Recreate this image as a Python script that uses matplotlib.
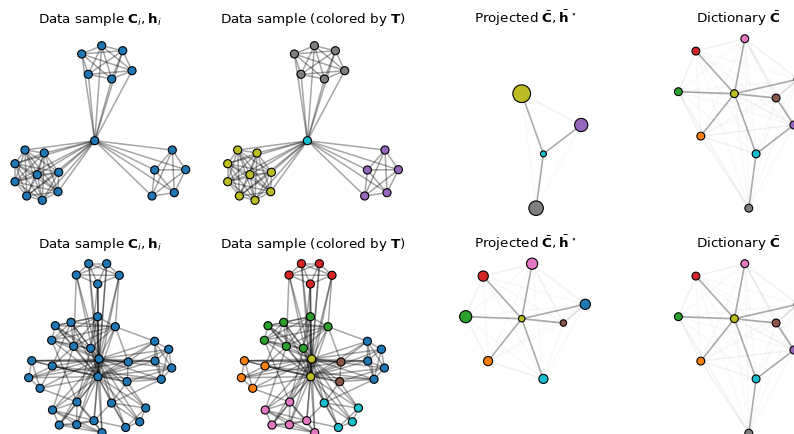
"""
Graph samples, their colouring by the transport plan T,
the projection on the dictionary and the dictionary itself
"""

import numpy as np
import matplotlib.pyplot as plt

colors = plt.get_cmap('tab10').colors

# ---- data sample 1 (21 nodes): layout positions (px-like units, y down)
g1_x = [81.7, 101.7, 122.7, 132.0, 111.7, 88.3,
        94.7,
        25.0, 44.3, 15.0, 37.3, 58.7, 15.0, 26.7, 42.3, 58.0,
        172.3, 154.7, 185.7, 152.0, 174.3]
g1_y = [24.0, 15.7, 20.7, 40.7, 49.0, 44.3,
        110.7,
        120.0, 123.0, 133.7, 144.7, 142.3, 151.7, 166.0, 170.3, 161.7,
        120.0, 140.0, 139.7, 166.0, 162.7]
g1_clusters = [[0, 1, 2, 3, 4, 5], [6], [7, 8, 9, 10, 11, 12, 13, 14, 15],
               [16, 17, 18, 19, 20]]
g1_hubs = [6]
g1_extra = []
g1_atom = [7, 9, 8, 4]   # atom of the dictionary each cluster is sent to by T

# ---- data sample 2 (35 nodes)
g2_x = [88.7, 106.7, 76.3, 119.3, 97.7,
        97.7, 115.3, 55.3, 71.0, 51.7, 73.7, 90.7,
        99.0, 98.0,
        31.7, 52.3, 28.7, 40.0,
        154.7, 168.7, 155.0, 171.7, 161.3,
        128.3, 127.0,
        77.0, 52.5, 59.3, 76.7, 94.0, 102.0,
        111.5, 145.7, 139.7, 125.7]
g2_y = [8.7, 8.7, 20.0, 20.3, 29.0,
        61.7, 71.7, 70.7, 67.3, 85.3, 91.3, 93.3,
        104.0, 121.7,
        105.7, 111.0, 122.7, 133.3,
        86.3, 94.3, 106.0, 113.0, 124.3,
        107.0, 126.7,
        147.0, 155.0, 170.0, 169.7, 165.7, 177.7,
        148.0, 153.0, 166.8, 172.5]
g2_clusters = [[0, 1, 2, 3, 4], [5, 6, 7, 8, 9, 10, 11], [12, 13],
               [14, 15, 16, 17], [18, 19, 20, 21, 22], [23, 24],
               [25, 26, 27, 28, 29, 30], [31, 32, 33, 34]]
g2_hubs = [12, 13]
g2_extra = [(4, 5), (4, 11), (14, 23), (15, 24), (16, 23), (14, 20),
            (15, 22), (23, 18), (23, 20), (24, 22), (24, 21), (9, 25),
            (10, 26), (31, 22), (24, 31), (24, 32), (11, 25), (17, 25),
            (31, 29), (6, 23), (6, 18), (8, 15), (10, 15), (29, 34),
            (3, 6), (2, 10)]
g2_atom = [3, 2, 8, 1, 0, 5, 6, 9]

# ---- dictionary (10 atoms, tab10 order)
dict_x = [159.9, 62.7, 40.3, 57.8, 155.8, 138.0, 106.7, 110.7, 96.3, 118.0]
dict_y = [49.3, 106.1, 61.7, 21.1, 95.0, 68.0, 8.7, 178.2, 63.7, 123.9]
strong_edges = [(8, 6), (8, 3), (8, 2), (8, 0), (8, 5), (8, 1), (8, 9),
                (5, 4), (4, 9), (9, 7)]
mid_edges = [(0, 5)]
light_edges = [(8, 4), (6, 0), (6, 5), (6, 3), (3, 2), (2, 1), (1, 9),
               (1, 4), (6, 4), (0, 4), (2, 7), (1, 7)]

# projected weights h* for each sample
h_proj1 = [0, 0, 0, 0, 0.238, 0, 0, 0.286, 0.429, 0.048]
h_proj2 = [0.143, 0.114, 0.2, 0.143, 0, 0.057, 0.171, 0, 0.057, 0.114]

Cbar = np.full((10, 10), 0.07)
for i, j in strong_edges:
    Cbar[i, j] = Cbar[j, i] = 1.0
for i, j in mid_edges:
    Cbar[i, j] = Cbar[j, i] = 0.4
for i, j in light_edges:
    Cbar[i, j] = Cbar[j, i] = 0.16


def graph_edges(clusters, hubs, extra, n):
    edges = []
    for c in clusters:
        for a in range(len(c)):
            for b in range(a + 1, len(c)):
                edges.append((c[a], c[b]))
    for h in hubs:
        for k in range(n):
            if k != h and (k, h) not in edges and (h, k) not in edges:
                edges.append((h, k))
    return edges + list(extra)


def draw_sample(ax, x, y, clusters, hubs, extra, node_colors):
    x = np.array(x)
    y = np.array(y)
    for i, j in graph_edges(clusters, hubs, extra, len(x)):
        ax.plot([x[i], x[j]], [y[i], y[j]], color='k', alpha=0.35, lw=1.1,
                zorder=1)
    ax.scatter(x, y, s=34, c=node_colors, edgecolors='k', linewidths=0.8,
               zorder=2)


def draw_dict(ax, h=None):
    x = np.array(dict_x)
    y = np.array(dict_y)
    if h is None:
        keep = list(range(10))
        sizes = np.full(10, 32.0)
    else:
        keep = [k for k in range(10) if h[k] > 0]
        sizes = np.array(h) * 380
    for a in range(len(keep)):
        for b in range(a + 1, len(keep)):
            i, j = keep[a], keep[b]
            ax.plot([x[i], x[j]], [y[i], y[j]], color='k',
                    alpha=0.33 * Cbar[i, j], lw=1.2, zorder=1)
    ax.scatter(x[keep], y[keep], s=sizes[keep],
               c=[colors[k] for k in keep], edgecolors='k', linewidths=0.8,
               zorder=2)


W, H = 794, 435
fig = plt.figure(figsize=(W / 100, H / 100), dpi=100)

titles = [r'Data sample $\mathbf{C}_i, \mathbf{h}_i$',
          r'Data sample (colored by $\mathbf{T}$)',
          r'Projected $\bar{\mathbf{C}}, \bar{\mathbf{h}}^\star$',
          r'Dictionary $\bar{\mathbf{C}}$']

samples = [(g1_x, g1_y, g1_clusters, g1_hubs, g1_extra, g1_atom, h_proj1),
           (g2_x, g2_y, g2_clusters, g2_hubs, g2_extra, g2_atom, h_proj2)]

for r, (gx, gy, cl, hubs, extra, atom, hp) in enumerate(samples):
    node_atom = np.zeros(len(gx), dtype=int)
    for c, a in zip(cl, atom):
        node_atom[c] = a
    for k in range(4):
        left = 212.7 * k
        top = 31 + 225 * r
        ax = fig.add_axes([left / W, (H - top - 190) / H, 200 / W, 190 / H])
        if k == 0:
            draw_sample(ax, gx, gy, cl, hubs, extra, [colors[0]] * len(gx))
        elif k == 1:
            draw_sample(ax, gx, gy, cl, hubs, extra,
                        [colors[a] for a in node_atom])
        elif k == 2:
            draw_dict(ax, hp)
        else:
            draw_dict(ax)
        ax.set_xlim(0, 200)
        ax.set_ylim(190, 0)
        ax.set_title(titles[k], fontsize=9.7)
        ax.axis('off')

plt.savefig('out.png', dpi=100)
